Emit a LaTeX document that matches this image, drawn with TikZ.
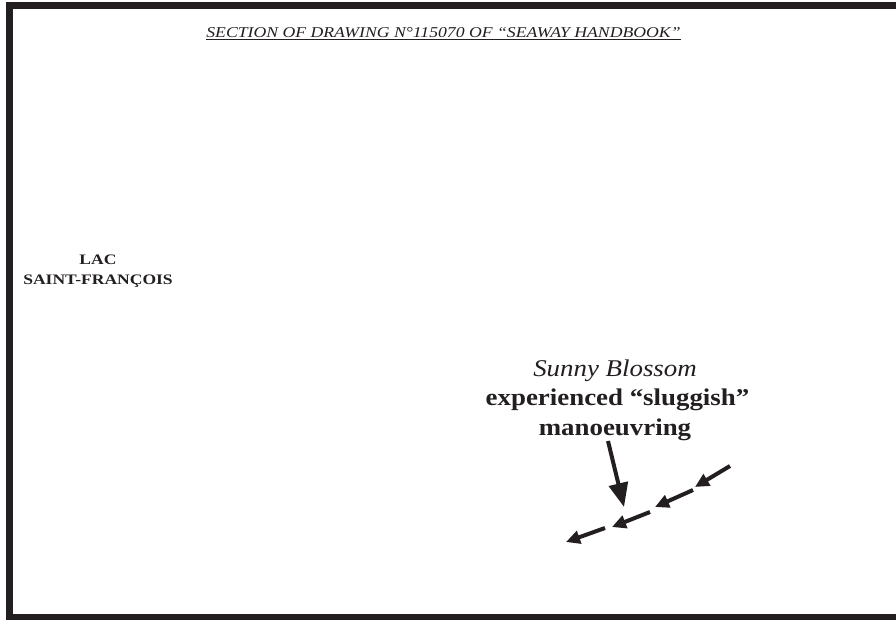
\documentclass[tikz,border=0pt]{standalone}
\usepackage{fontspec}
\setmainfont{Liberation Serif}
\newfontfamily\titlefont[FakeStretch=1.18]{Liberation Serif}
\newfontfamily\lakefont[FakeStretch=1.21]{Liberation Serif}
\newfontfamily\notefont[FakeStretch=1.12]{Liberation Serif}
\usetikzlibrary{arrows.meta}
\definecolor{ink}{RGB}{35,31,32}
\tikzset{
  lbl/.style={inner sep=0pt, text=ink, align=center},
  bigarrow/.style={draw=ink, line width=4pt, -{Triangle[length=24pt,width=19pt]}},
  flowarrow/.style={draw=ink, line width=4pt, -{Triangle[length=14pt,width=13pt]}},
}
\begin{document}
\begin{tikzpicture}[x=1pt,y=-1pt]
\useasboundingbox (0,0) rectangle (896,620);
\clip (0,0) rectangle (896,620);
\fill[white] (0,0) rectangle (896,620);
\draw[ink, line width=7pt] (9.5,5.5) rectangle (905,617.5);
% title
\node[lbl, anchor=base] (title) at (443.5,38)
  {\titlefont\fontsize{15}{18}\selectfont\itshape\underline{SECTION OF DRAWING N°115070 OF “SEAWAY HANDBOOK”}};
% lake
\node[lbl, anchor=base] (lac) at (98,264) {\lakefont\fontsize{14.5}{20}\selectfont\bfseries LAC};
\node[lbl, anchor=base] (stf) at (98,284) {\lakefont\fontsize{14.5}{20}\selectfont\bfseries SAINT-FRANÇOIS};
% annotation
\node[lbl, anchor=base] (ship) at (615,376) {\notefont\fontsize{24}{29}\selectfont\itshape Sunny Blossom};
\node[lbl, anchor=base] (exp) at (617.5,405) {\notefont\fontsize{24}{29}\selectfont\bfseries experienced “sluggish”};
\node[lbl, anchor=base] (man) at (615,435) {\notefont\fontsize{24}{29}\selectfont\bfseries manoeuvring};
% arrows
\coordinate (a0) at (608,441);
\coordinate (a1) at (624,507);
\draw[bigarrow] (a0) -- (a1);
\coordinate (p1) at (730,466);
\coordinate (q1) at (695,487);
\coordinate (p2) at (693,490);
\coordinate (q2) at (655,507);
\coordinate (p3) at (650,512);
\coordinate (q3) at (612,527);
\coordinate (p4) at (605,528);
\coordinate (q4) at (566,542);
\draw[flowarrow] (p1) -- (q1);
\draw[flowarrow] (p2) -- (q2);
\draw[flowarrow] (p3) -- (q3);
\draw[flowarrow] (p4) -- (q4);
\end{tikzpicture}
\end{document}
